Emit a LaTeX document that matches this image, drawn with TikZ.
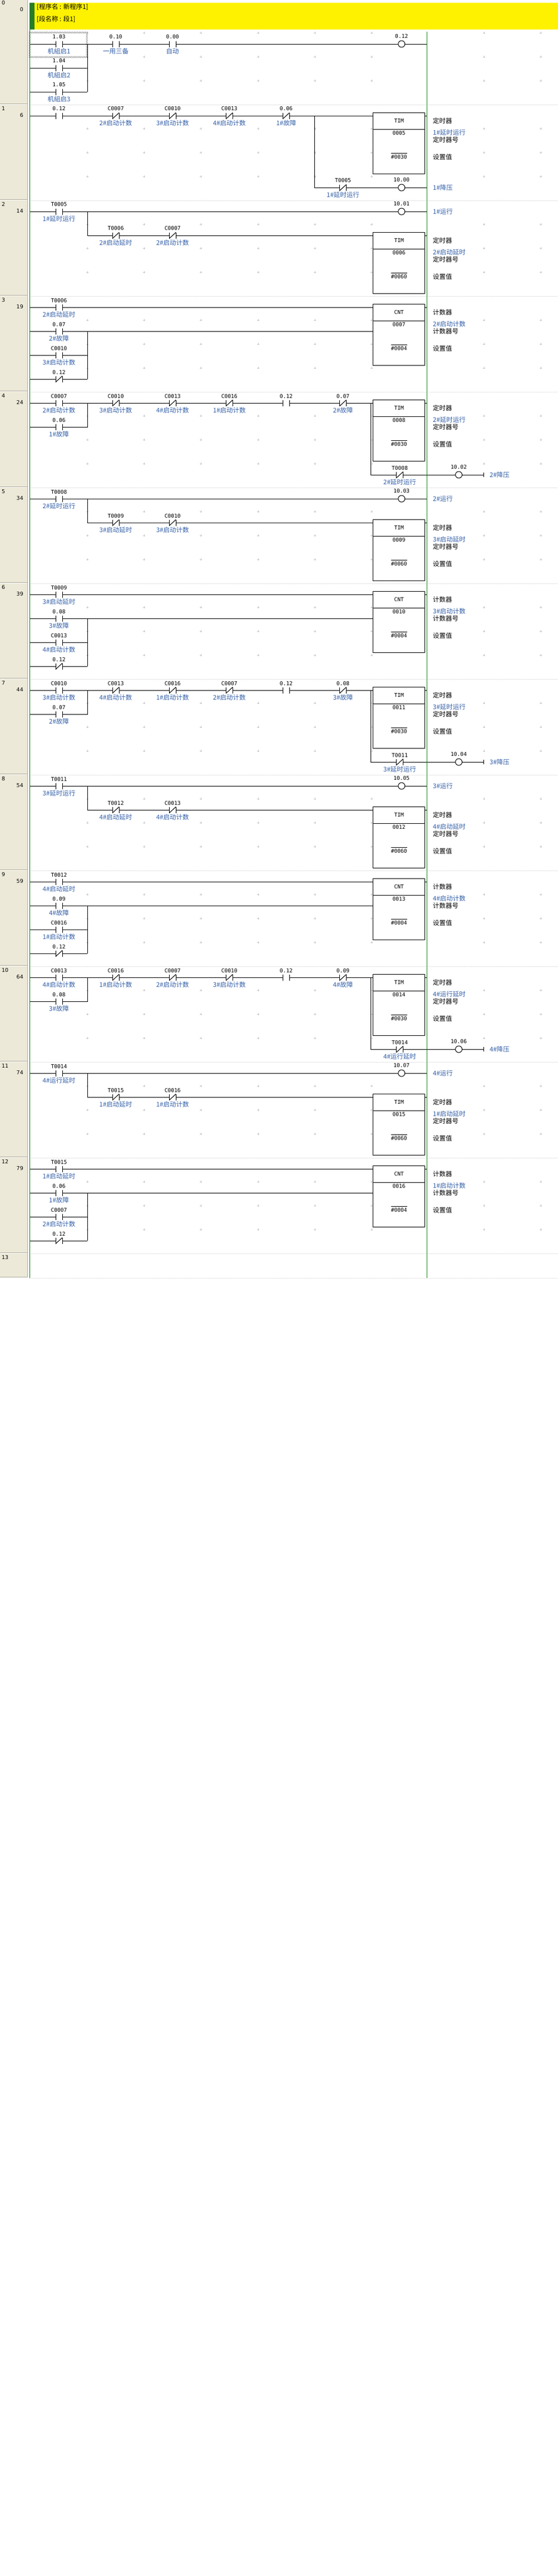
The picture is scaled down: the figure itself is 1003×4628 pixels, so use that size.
\documentclass[tikz,border=0pt]{standalone}
\usepackage{fontspec}
\setmainfont{DejaVu Sans}
\newfontfamily\cjk{Noto Sans CJK SC}
\newfontfamily\monof{DejaVu Sans Mono}
\usetikzlibrary{patterns}
\definecolor{lblue}{RGB}{52,96,168}
\definecolor{railgreen}{RGB}{0,128,0}
\definecolor{hdrgreen}{RGB}{40,125,40}
\definecolor{colgray}{RGB}{236,233,216}
\definecolor{colline}{RGB}{172,168,153}
\definecolor{sepgray}{RGB}{205,205,205}
\definecolor{gridgray}{RGB}{200,200,200}
\tikzset{
  wire/.style={line width=1pt,draw=black},
  contact/.style={minimum width=12pt,minimum height=11pt,inner sep=0pt,outer sep=0pt},
  coilnode/.style={circle,draw=black,line width=1pt,minimum size=12pt,inner sep=0pt,outer sep=0pt},
  addr/.style={font=\monof\fontsize{9.6}{10}\selectfont,inner sep=0pt},
  cmt/.style={font=\cjk\fontsize{11.5}{12}\selectfont,text=lblue,inner sep=0pt},
  rtxt/.style={font=\cjk\fontsize{11.5}{12}\selectfont,inner sep=0pt,anchor=west},
  otxt/.style={rtxt,text=lblue},
  htxt/.style={font=\cjk\fontsize{11.5}{12}\selectfont,inner sep=0pt,anchor=west},
  rnum/.style={font=\fontsize{9.5}{10}\selectfont,inner sep=0pt},
  gridmark/.style={draw=gridgray,line width=0.6pt},
  sepline/.style={draw=sepgray,line width=1pt,dash pattern=on 1pt off 1pt},
  rail/.style={draw=railgreen,line width=1pt},
  boxnode/.style={draw=black,line width=1pt,minimum width=93pt,minimum height=110pt,inner sep=0pt,outer sep=0pt,anchor=north west},
}
% contacts: name, column, y, address, comment
\newcommand\ldNO[5]{%
  \node[contact] (#1) at ({106+102.1*#2},#3) {};
  \draw[wire] (#1.north west) -- (#1.south west) (#1.north east) -- (#1.south east);
  \node[addr] (#1a) at ({106+102.1*#2},#3-12.5) {#4};
  \node[cmt] (#1c) at ({106+102.1*#2},#3+13) {#5};}
\newcommand\ldNC[5]{%
  \node[contact] (#1) at ({106+102.1*#2},#3) {};
  \draw[wire] (#1.north west) -- (#1.south west) (#1.north east) -- (#1.south east);
  \draw[wire] (#1.south west) -- (#1.north east);
  \node[addr] (#1a) at ({106+102.1*#2},#3-12.5) {#4};
  \node[cmt] (#1c) at ({106+102.1*#2},#3+13) {#5};}
% coil: name, column, y, address
\newcommand\ldCoil[4]{%
  \node[coilnode] (#1) at ({105+102.8*#2},#3) {};
  \node[addr] (#1a) at ({105+102.8*#2},#3-14) {#4};}
% box: name, top, type, number, preset, kind, blue name, number label
\newcommand\ldBox[8]{%
  \node[boxnode] (#1) at (670.7,#2) {};
  \draw[wire] (670.7,#2+30) -- (763.7,#2+30);
  \node[addr] (#1t) at (717.2,#2+15) {#3};
  \node[addr] (#1n) at (717.2,#2+37) {#4};
  \node[addr] (#1p) at (717.2,#2+80) {#5};
  \draw[line width=0.8pt] ([yshift=3pt]#1p.north west) -- ([yshift=3pt]#1p.north east);
  \coordinate (#1o) at (767.5,#2+6);
  \coordinate (#1i) at (670.7,#2+6);
  \coordinate (#1j) at (670.7,#2+49);
  \coordinate (#1e) at (763.7,#2+6);
  \draw[wire] (#1e) -- (#1o);
  \node[rtxt] (#1k) at (778,#2+15) {#6};
  \node[otxt] (#1m) at (778,#2+36) {#7};
  \node[rtxt] (#1h) at (778,#2+49) {#8};
  \node[rtxt] (#1s) at (778,#2+80) {设置值};}
\newcommand\ldRung[3]{%
  \node[rnum,anchor=west] at (3,#1+7) {#2};
  \node[rnum,anchor=east] at (42,#1+19) {#3};}
\newcommand\ldCross[2]{%
  \draw[gridmark] (#1-1.8,#2) -- (#1+1.8,#2) (#1,#2-1.8) -- (#1,#2+1.8);}
\newcommand\ldTick[1]{%
  \draw[wire] ([yshift=4pt]#1) -- ([yshift=-4pt]#1);}
\begin{document}
\begin{tikzpicture}[x=1pt,y=-1pt]
\useasboundingbox (0,0) rectangle (1003,4628);
\fill[white] (0,0) rectangle (1003,4628);
% left number column
\fill[colgray] (0,0) rectangle (49,2294);
\draw[colline,line width=1pt] (49.5,0) -- (49.5,2294.5);
\foreach \s in {188,360,...,2252} {
  \draw[colline,line width=1pt] (0,\s-1.5) -- (49,\s-1.5);
  \draw[white,line width=1pt] (0,\s-0.5) -- (49,\s-0.5);
}
\draw[colline,line width=1pt] (0,2294.5) -- (49.5,2294.5);
% rung separators
\foreach \s in {188,360,...,2252} { \draw[sepline] (53,\s) -- (1003,\s); }
\draw[sepline] (53,2296) -- (1003,2296);
% grid marks
\foreach \y in {59,102,145} { \foreach \x in {157,259,361,464,566,668,870,972} { \ldCross{\x}{\y} } }
\foreach \s in {188,360,...,2080} { \foreach \k in {43,86,129} { \foreach \x in {157,259,361,464,566,668,870,972} { \ldCross{\x}{\s+\k} } } }
% header
\fill[yellow] (53,5) rectangle (1003,53);
\fill[hdrgreen] (53,5) rectangle (62,53);
\node[htxt] (h1) at (66,12.7) {[程序名 : 新程序1]};
\node[htxt] (h2) at (66,35) {[段名称 : 段1]};
% rung numbers
\ldRung{-1.5}{0}{0}
\ldRung{188}{1}{6}
\ldRung{360}{2}{14}
\ldRung{532}{3}{19}
\ldRung{704}{4}{24}
\ldRung{876}{5}{34}
\ldRung{1048}{6}{39}
\ldRung{1220}{7}{44}
\ldRung{1392}{8}{54}
\ldRung{1564}{9}{59}
\ldRung{1736}{10}{64}
\ldRung{1908}{11}{74}
\ldRung{2080}{12}{79}
\node[rnum,anchor=west] at (3,2259) {13};

% ---------- rung 0 ----------
\fill[pattern=north east lines,pattern color=black!80,even odd rule] (51.5,57) rectangle (157.5,104) (54.5,60) rectangle (154.5,101);
\ldNO{z0}{0}{79}{1.03}{机組启1}
\ldNO{z1}{1}{79}{0.10}{一用三备}
\ldNO{z2}{2}{79}{0.00}{自动}
\ldCoil{z6}{6}{79}{0.12}
\ldNO{z3}{0}{122}{1.04}{机組启2}
\ldNO{z4}{0}{165}{1.05}{机組启3}
\coordinate (zL0) at (53,79); \coordinate (zR0) at (767.5,79);
\coordinate (zL1) at (53,122); \coordinate (zL2) at (53,165);
\coordinate (zJ0) at (157,79); \coordinate (zJ1) at (157,122); \coordinate (zJ2) at (157,165);
\draw[wire] (zL0) -- (z0) -- (z1) -- (z2) -- (z6) -- (zR0);
\draw[wire] (zL1) -- (z3) -- (zJ1);
\draw[wire] (zL2) -- (z4) -- (zJ2);
\draw[wire] (zJ0) -- (zJ2);

% ---------- rung 1 ----------
\ldNO{a0}{0}{208}{0.12}{}
\ldNC{a1}{1}{208}{C0007}{2\#启动计数}
\ldNC{a2}{2}{208}{C0010}{3\#启动计数}
\ldNC{a3}{3}{208}{C0013}{4\#启动计数}
\ldNC{a4}{4}{208}{0.06}{1\#故障}
\ldBox{Ba}{202}{TIM}{0005}{\#0030}{定时器}{1\#延时运行}{定时器号}
\ldNC{a5}{5}{337}{T0005}{1\#延时运行}
\ldCoil{a6}{6}{337}{10.00}
\node[otxt] (a6c) at (778,337) {1\#降压};
\coordinate (aL0) at (53,208);
\coordinate (aK0) at (565.5,208); \coordinate (aK3) at (565.5,337);
\coordinate (aR3) at (767.5,337);
\draw[wire] (aL0) -- (a0) -- (a1) -- (a2) -- (a3) -- (a4) -- (Bai);
\draw[wire] (aK0) -- (aK3) -- (a5) -- (a6) -- (aR3);

% ---------- rung 2 ----------
\ldNO{b0}{0}{380}{T0005}{1\#延时运行}
\ldCoil{b6}{6}{380}{10.01}
\node[otxt] (b6c) at (778,380) {1\#运行};
\ldNC{b1}{1}{423}{T0006}{2\#启动延时}
\ldNC{b2}{2}{423}{C0007}{2\#启动计数}
\ldBox{Bb}{417}{TIM}{0006}{\#0060}{定时器}{2\#启动延时}{定时器号}
\coordinate (bL0) at (53,380); \coordinate (bR0) at (767.5,380);
\coordinate (bJ0) at (157,380); \coordinate (bJ1) at (157,423);
\draw[wire] (bL0) -- (b0) -- (b6) -- (bR0);
\draw[wire] (bJ0) -- (bJ1) -- (b1) -- (b2) -- (Bbi);

% ---------- rung 3 ----------
\ldNO{c0}{0}{552}{T0006}{2\#启动延时}
\ldNO{c1}{0}{595}{0.07}{2\#故障}
\ldNO{c2}{0}{638}{C0010}{3\#启动计数}
\ldNC{c3}{0}{681}{0.12}{}
\ldBox{Bc}{546}{CNT}{0007}{\#0004}{计数器}{2\#启动计数}{计数器号}
\coordinate (cL0) at (53,552); \coordinate (cL1) at (53,595);
\coordinate (cL2) at (53,638); \coordinate (cL3) at (53,681);
\coordinate (cJ1) at (157,595); \coordinate (cJ2) at (157,638); \coordinate (cJ3) at (157,681);
\draw[wire] (cL0) -- (c0) -- (Bci);
\draw[wire] (cL1) -- (c1) -- (Bcj);
\draw[wire] (cL2) -- (c2) -- (cJ2);
\draw[wire] (cL3) -- (c3) -- (cJ3);
\draw[wire] (cJ1) -- (cJ3);

% ---------- rung 4 ----------
\ldNO{d0}{0}{724}{C0007}{2\#启动计数}
\ldNC{d1}{1}{724}{C0010}{3\#启动计数}
\ldNC{d2}{2}{724}{C0013}{4\#启动计数}
\ldNC{d3}{3}{724}{C0016}{1\#启动计数}
\ldNO{d4}{4}{724}{0.12}{}
\ldNC{d5}{5}{724}{0.07}{2\#故障}
\ldNO{d7}{0}{767}{0.06}{1\#故障}
\ldBox{Bd}{718}{TIM}{0008}{\#0030}{定时器}{2\#延时运行}{定时器号}
\ldNC{d8}{6}{853}{T0008}{2\#延时运行}
\ldCoil{d9}{7}{853}{10.02}
\coordinate (dT) at (869,853);
\ldTick{dT}
\node[otxt] (d9c) at (880,853) {2\#降压};
\coordinate (dL0) at (53,724); \coordinate (dL1) at (53,767);
\coordinate (dJ0) at (157,724); \coordinate (dJ1) at (157,767);
\coordinate (dK0) at (666.5,724); \coordinate (dK3) at (666.5,853);
\draw[wire] (dL0) -- (d0) -- (d1) -- (d2) -- (d3) -- (d4) -- (d5) -- (Bdi);
\draw[wire] (dL1) -- (d7) -- (dJ1) -- (dJ0);
\draw[wire] (dK0) -- (dK3) -- (d8) -- (d9) -- (dT);

% ---------- rung 5 ----------
\ldNO{e0}{0}{896}{T0008}{2\#延时运行}
\ldCoil{e6}{6}{896}{10.03}
\node[otxt] (e6c) at (778,896) {2\#运行};
\ldNC{e1}{1}{939}{T0009}{3\#启动延时}
\ldNC{e2}{2}{939}{C0010}{3\#启动计数}
\ldBox{Be}{933}{TIM}{0009}{\#0060}{定时器}{3\#启动延时}{定时器号}
\coordinate (eL0) at (53,896); \coordinate (eR0) at (767.5,896);
\coordinate (eJ0) at (157,896); \coordinate (eJ1) at (157,939);
\draw[wire] (eL0) -- (e0) -- (e6) -- (eR0);
\draw[wire] (eJ0) -- (eJ1) -- (e1) -- (e2) -- (Bei);

% ---------- rung 6 ----------
\ldNO{f0}{0}{1068}{T0009}{3\#启动延时}
\ldNO{f1}{0}{1111}{0.08}{3\#故障}
\ldNO{f2}{0}{1154}{C0013}{4\#启动计数}
\ldNC{f3}{0}{1197}{0.12}{}
\ldBox{Bf}{1062}{CNT}{0010}{\#0004}{计数器}{3\#启动计数}{计数器号}
\coordinate (fL0) at (53,1068); \coordinate (fL1) at (53,1111);
\coordinate (fL2) at (53,1154); \coordinate (fL3) at (53,1197);
\coordinate (fJ1) at (157,1111); \coordinate (fJ2) at (157,1154); \coordinate (fJ3) at (157,1197);
\draw[wire] (fL0) -- (f0) -- (Bfi);
\draw[wire] (fL1) -- (f1) -- (Bfj);
\draw[wire] (fL2) -- (f2) -- (fJ2);
\draw[wire] (fL3) -- (f3) -- (fJ3);
\draw[wire] (fJ1) -- (fJ3);

% ---------- rung 7 ----------
\ldNO{g0}{0}{1240}{C0010}{3\#启动计数}
\ldNC{g1}{1}{1240}{C0013}{4\#启动计数}
\ldNC{g2}{2}{1240}{C0016}{1\#启动计数}
\ldNC{g3}{3}{1240}{C0007}{2\#启动计数}
\ldNO{g4}{4}{1240}{0.12}{}
\ldNC{g5}{5}{1240}{0.08}{3\#故障}
\ldNO{g7}{0}{1283}{0.07}{2\#故障}
\ldBox{Bg}{1234}{TIM}{0011}{\#0030}{定时器}{3\#延时运行}{定时器号}
\ldNC{g8}{6}{1369}{T0011}{3\#延时运行}
\ldCoil{g9}{7}{1369}{10.04}
\coordinate (gT) at (869,1369);
\ldTick{gT}
\node[otxt] (g9c) at (880,1369) {3\#降压};
\coordinate (gL0) at (53,1240); \coordinate (gL1) at (53,1283);
\coordinate (gJ0) at (157,1240); \coordinate (gJ1) at (157,1283);
\coordinate (gK0) at (666.5,1240); \coordinate (gK3) at (666.5,1369);
\draw[wire] (gL0) -- (g0) -- (g1) -- (g2) -- (g3) -- (g4) -- (g5) -- (Bgi);
\draw[wire] (gL1) -- (g7) -- (gJ1) -- (gJ0);
\draw[wire] (gK0) -- (gK3) -- (g8) -- (g9) -- (gT);

% ---------- rung 8 ----------
\ldNO{h0}{0}{1412}{T0011}{3\#延时运行}
\ldCoil{h6}{6}{1412}{10.05}
\node[otxt] (h6c) at (778,1412) {3\#运行};
\ldNC{h1}{1}{1455}{T0012}{4\#启动延时}
\ldNC{h2}{2}{1455}{C0013}{4\#启动计数}
\ldBox{Bh}{1449}{TIM}{0012}{\#0060}{定时器}{4\#启动延时}{定时器号}
\coordinate (hL0) at (53,1412); \coordinate (hR0) at (767.5,1412);
\coordinate (hJ0) at (157,1412); \coordinate (hJ1) at (157,1455);
\draw[wire] (hL0) -- (h0) -- (h6) -- (hR0);
\draw[wire] (hJ0) -- (hJ1) -- (h1) -- (h2) -- (Bhi);

% ---------- rung 9 ----------
\ldNO{i0}{0}{1584}{T0012}{4\#启动延时}
\ldNO{i1}{0}{1627}{0.09}{4\#故障}
\ldNO{i2}{0}{1670}{C0016}{1\#启动计数}
\ldNC{i3}{0}{1713}{0.12}{}
\ldBox{Bi}{1578}{CNT}{0013}{\#0004}{计数器}{4\#启动计数}{计数器号}
\coordinate (iL0) at (53,1584); \coordinate (iL1) at (53,1627);
\coordinate (iL2) at (53,1670); \coordinate (iL3) at (53,1713);
\coordinate (iJ1) at (157,1627); \coordinate (iJ2) at (157,1670); \coordinate (iJ3) at (157,1713);
\draw[wire] (iL0) -- (i0) -- (Bii);
\draw[wire] (iL1) -- (i1) -- (Bij);
\draw[wire] (iL2) -- (i2) -- (iJ2);
\draw[wire] (iL3) -- (i3) -- (iJ3);
\draw[wire] (iJ1) -- (iJ3);

% ---------- rung 10 ----------
\ldNO{j0}{0}{1756}{C0013}{4\#启动计数}
\ldNC{j1}{1}{1756}{C0016}{1\#启动计数}
\ldNC{j2}{2}{1756}{C0007}{2\#启动计数}
\ldNC{j3}{3}{1756}{C0010}{3\#启动计数}
\ldNO{j4}{4}{1756}{0.12}{}
\ldNC{j5}{5}{1756}{0.09}{4\#故障}
\ldNO{j7}{0}{1799}{0.08}{3\#故障}
\ldBox{Bj}{1750}{TIM}{0014}{\#0030}{定时器}{4\#运行延时}{定时器号}
\ldNC{j8}{6}{1885}{T0014}{4\#运行延时}
\ldCoil{j9}{7}{1885}{10.06}
\coordinate (jT) at (869,1885);
\ldTick{jT}
\node[otxt] (j9c) at (880,1885) {4\#降压};
\coordinate (jL0) at (53,1756); \coordinate (jL1) at (53,1799);
\coordinate (jJ0) at (157,1756); \coordinate (jJ1) at (157,1799);
\coordinate (jK0) at (666.5,1756); \coordinate (jK3) at (666.5,1885);
\draw[wire] (jL0) -- (j0) -- (j1) -- (j2) -- (j3) -- (j4) -- (j5) -- (Bji);
\draw[wire] (jL1) -- (j7) -- (jJ1) -- (jJ0);
\draw[wire] (jK0) -- (jK3) -- (j8) -- (j9) -- (jT);

% ---------- rung 11 ----------
\ldNO{k0}{0}{1928}{T0014}{4\#运行延时}
\ldCoil{k6}{6}{1928}{10.07}
\node[otxt] (k6c) at (778,1928) {4\#运行};
\ldNC{k1}{1}{1971}{T0015}{1\#启动延时}
\ldNC{k2}{2}{1971}{C0016}{1\#启动计数}
\ldBox{Bk}{1965}{TIM}{0015}{\#0060}{定时器}{1\#启动延时}{定时器号}
\coordinate (kL0) at (53,1928); \coordinate (kR0) at (767.5,1928);
\coordinate (kJ0) at (157,1928); \coordinate (kJ1) at (157,1971);
\draw[wire] (kL0) -- (k0) -- (k6) -- (kR0);
\draw[wire] (kJ0) -- (kJ1) -- (k1) -- (k2) -- (Bki);

% ---------- rung 12 ----------
\ldNO{l0}{0}{2100}{T0015}{1\#启动延时}
\ldNO{l1}{0}{2143}{0.06}{1\#故障}
\ldNO{l2}{0}{2186}{C0007}{2\#启动计数}
\ldNC{l3}{0}{2229}{0.12}{}
\ldBox{Bl}{2094}{CNT}{0016}{\#0004}{计数器}{1\#启动计数}{计数器号}
\coordinate (lL0) at (53,2100); \coordinate (lL1) at (53,2143);
\coordinate (lL2) at (53,2186); \coordinate (lL3) at (53,2229);
\coordinate (lJ1) at (157,2143); \coordinate (lJ2) at (157,2186); \coordinate (lJ3) at (157,2229);
\draw[wire] (lL0) -- (l0) -- (Bli);
\draw[wire] (lL1) -- (l1) -- (Blj);
\draw[wire] (lL2) -- (l2) -- (lJ2);
\draw[wire] (lL3) -- (l3) -- (lJ3);
\draw[wire] (lJ1) -- (lJ3);

% rails
\draw[rail] (53,53) -- (53,2296);
\draw[rail] (767.5,57) -- (767.5,2296);
\end{tikzpicture}
\end{document}
